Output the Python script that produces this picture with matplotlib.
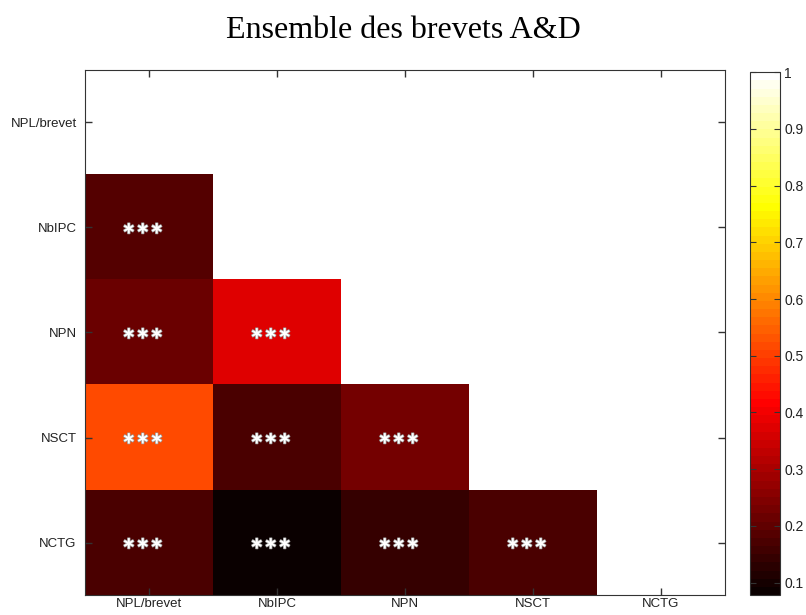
import numpy as np
import matplotlib.pyplot as plt
import matplotlib.patheffects as pe

labels = ["NPL/brevet", "NbIPC", "NPN", "NSCT", "NCTG"]
# lower triangle values, row by row (row i has i values)
row_nbipc = [0.180]
row_npn = [0.220, 0.372]
row_nsct = [0.519, 0.168, 0.225]
row_nctg = [0.176, 0.080, 0.141, 0.176]
stars = "\u2217\u2217\u2217"

vmin, vmax = 0.078, 1.0

n = len(labels)
corr = np.full((n, n), np.nan)
for i, row in enumerate([row_nbipc, row_npn, row_nsct, row_nctg], start=1):
    corr[i, :len(row)] = row

fig = plt.figure(figsize=(8.06, 6.15), dpi=100)
ax = fig.add_axes([0.1055, 0.0325, 0.794, 0.8537])
cax = fig.add_axes([0.9305, 0.0325, 0.0372, 0.850])

cmap = plt.get_cmap("hot", 64).copy()
cmap.set_bad("white")
im = ax.imshow(np.ma.masked_invalid(corr), cmap=cmap, vmin=vmin, vmax=vmax,
               aspect="auto", interpolation="nearest")

for i in range(n):
    for j in range(n):
        if not np.isnan(corr[i, j]):
            ax.text(j - 0.05, i + 0.01, stars, color="white", ha="center", va="center",
                    fontsize=12, fontweight="bold", family="DejaVu Sans",
                    path_effects=[pe.withStroke(linewidth=1.0, foreground="#999999")])

ax.set_xticks(range(n))
ax.set_xticklabels(labels)
ax.set_yticks(range(n))
ax.set_yticklabels(labels)
ax.tick_params(direction="in", top=True, right=True, length=5, width=1,
               color="#333333", labelsize=9.5)
ax.tick_params(axis="x", pad=2)
ax.tick_params(axis="y", pad=6)
for lbl in ax.get_xticklabels() + ax.get_yticklabels():
    lbl.set_family("Liberation Sans")
    lbl.set_color("#222222")
for s in ax.spines.values():
    s.set_color("#333333")

cb = fig.colorbar(im, cax=cax)
cb.set_ticks(np.arange(0.1, 1.01, 0.1))
cb.set_ticklabels(["0.1", "0.2", "0.3", "0.4", "0.5", "0.6", "0.7", "0.8", "0.9", "1"])
cax.tick_params(direction="in", left=True, right=True, length=4, color="#333333",
                labelsize=10, pad=3)
for lbl in cax.get_yticklabels():
    lbl.set_family("Liberation Sans")
    lbl.set_color("#222222")
cb.outline.set_edgecolor("#333333")

fig.text(0.5, 0.951, "Ensemble des brevets A&D", ha="center", va="center",
         fontsize=23, family="Liberation Serif")

fig.savefig("out.png", dpi=100)
